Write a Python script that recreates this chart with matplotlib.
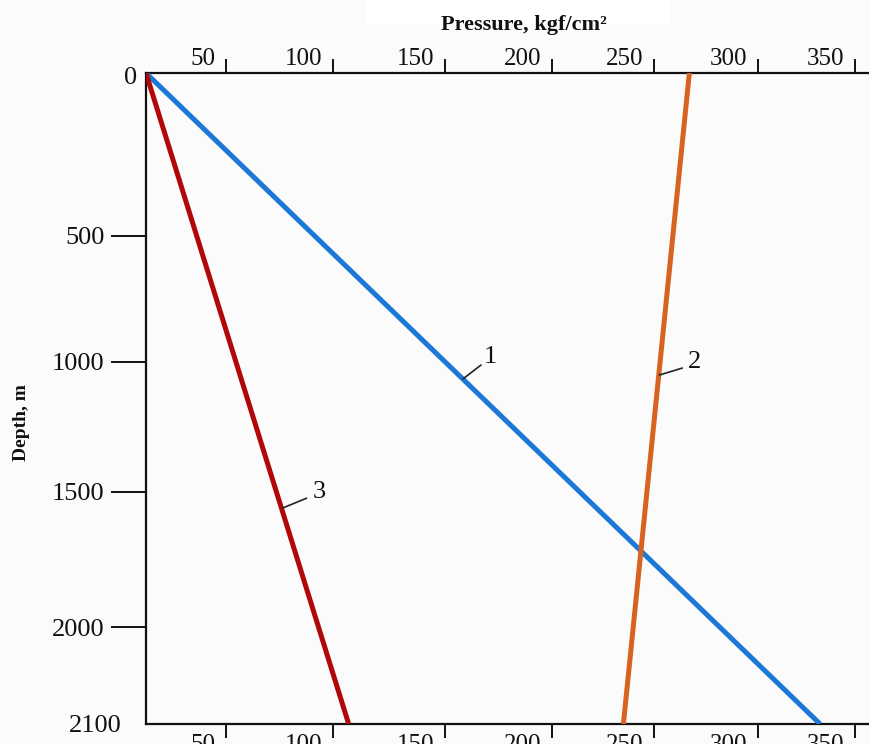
import numpy as np
import matplotlib
matplotlib.use('Agg')
import matplotlib.pyplot as plt
from matplotlib.transforms import ScaledTranslation
from matplotlib.patches import Rectangle

# ---------------- data ----------------
depth = [0, 2100]
line1_pressure = [12.6, 332.0]   # curve 1 (blue)
line2_pressure = [267.0, 235.0]  # curve 2 (orange)
line3_pressure = [12.6, 107.0]   # curve 3 (dark red)
line_labels = ['1', '2', '3']
# callout anchor points on each curve (pressure, depth)
callout_pressure = [158.4, 252.6, 76.6]
callout_depth = [1065, 1050, 1559]

x_ticks = [50, 100, 150, 200, 250, 300, 350]
x_ticklabels = ['50', '100', '150', '200', '250', '300', '350']
y_ticks = [0, 500, 1000, 1500, 2000, 2100]
y_ticklabels = ['0', '500', '1000', '1500', '2000', '2100']

# irregular (hand-drawn) axis calibration of the source figure
x_cal_val = [0, 50, 100, 150, 200, 250, 300, 350, 400]
x_cal_pos = [119, 226, 333, 445, 552, 654, 758, 855, 952]
y_cal_val = [-500, 0, 500, 1000, 1500, 2000, 2100, 2600]
y_cal_pos = [-90, 73, 236, 362, 492, 627, 724, 1209]

# ---------------- style ----------------
W, H, DPI = 869, 744, 100
BG = '#fbfbfb'
C1, C2, C3 = '#1b78d6', '#d8621f', '#b00808'
SERIF = ['Liberation Serif', 'DejaVu Serif']

plt.rcParams['font.family'] = SERIF

fig = plt.figure(figsize=(W / DPI, H / DPI), dpi=DPI, facecolor=BG)
# faint white patch behind the title (as in the scanned source)
fig.patches.append(Rectangle((367 / W, 1 - 24 / H), (670 - 367) / W, 24 / H,
                             transform=fig.transFigure, fc='white', ec='none',
                             zorder=0))
ax = fig.add_axes([146 / W, 1 - 724 / H, (W - 146) / W, (724 - 73) / H])
ax.set_facecolor(BG)


def fx(v):
    return np.interp(v, x_cal_val, x_cal_pos)


def ix(p):
    return np.interp(p, x_cal_pos, x_cal_val)


def fy(v):
    return np.interp(v, y_cal_val, y_cal_pos)


def iy(p):
    return np.interp(p, y_cal_pos, y_cal_val)


ax.set_xscale('function', functions=(fx, ix))
ax.set_yscale('function', functions=(fy, iy))
ax.set_xlim(float(ix(146)), float(ix(W)))
ax.set_ylim(2100, 0)

lw = 3.6
ax.plot(line1_pressure, depth, color=C1, lw=lw, solid_capstyle='butt', zorder=3)
ax.plot(line2_pressure, depth, color=C2, lw=lw, solid_capstyle='butt', zorder=3)
ax.plot(line3_pressure, depth, color=C3, lw=lw, solid_capstyle='butt', zorder=3)

# callouts (leader offsets and text offsets in points)
leader_off = [(13, 10), (16.5, 5), (17, 7)]
text_off = [(20, 16), (25, 9.5), (26.5, 11.5)]
for lab, p, d, lo, to in zip(line_labels, callout_pressure, callout_depth,
                             leader_off, text_off):
    ax.annotate('', xy=(p, d), xytext=lo, textcoords='offset points',
                arrowprops=dict(arrowstyle='-', lw=1.2, color='#222222',
                                shrinkA=0, shrinkB=0), zorder=4)
    ax.annotate(lab, xy=(p, d), xytext=to, textcoords='offset points',
                ha='center', va='center', fontsize=19, color='#111111')

# spines
for s in ['left', 'top', 'bottom']:
    ax.spines[s].set_linewidth(1.6)
    ax.spines[s].set_color('#111111')
ax.spines['right'].set_visible(False)

# x ticks on top and bottom
ax.set_xticks(x_ticks, x_ticklabels)
ax.tick_params(axis='x', which='major', top=True, labeltop=True, bottom=True,
               labelbottom=True, direction='out', length=10, width=1.4,
               color='#111111', labelsize=18, labelcolor='#111111')
ax.tick_params(axis='x', which='major', pad=-7.5)
for t in ax.xaxis.get_major_ticks():
    t.label2.set_va('bottom')
ax.tick_params(axis='x', which='minor', top=False, bottom=False)

# y ticks
ax.set_yticks(y_ticks, y_ticklabels)
ax.tick_params(axis='y', which='major', left=True, direction='out', length=25,
               width=1.4, color='#111111', labelsize=19, pad=5,
               labelcolor='#111111')
ax.tick_params(axis='y', which='minor', left=False, right=False)

fig.canvas.draw()

shift_top = ScaledTranslation(-11 / DPI, 0, fig.dpi_scale_trans)
shift_bot = ScaledTranslation(-11 / DPI, -7 / DPI, fig.dpi_scale_trans)
for t in ax.xaxis.get_major_ticks():
    t.label1.set_ha('right')
    t.label2.set_ha('right')
    t.label1.set_transform(t.label1.get_transform() + shift_bot)
    t.label2.set_transform(t.label2.get_transform() + shift_top)

yt = ax.yaxis.get_major_ticks()
yt[0].tick1line.set_visible(False)
yt[-1].tick1line.set_visible(False)
yt[0].label1.set_transform(yt[0].label1.get_transform() +
                           ScaledTranslation(33 / DPI, -3 / DPI, fig.dpi_scale_trans))
yt[-1].label1.set_transform(yt[-1].label1.get_transform() +
                            ScaledTranslation(17 / DPI, 1 / DPI, fig.dpi_scale_trans))

# axis titles
fig.text(524 / W, 1 - 25 / H, 'Pressure, kgf/cm²', ha='center', va='center',
         fontsize=16, fontweight='bold', color='#111111')
fig.text(22 / W, 1 - 423 / H, 'Depth, m', ha='center', va='center',
         rotation=90, fontsize=14, fontweight='bold', color='#111111')

fig.savefig('out.png', dpi=DPI, facecolor=BG)
